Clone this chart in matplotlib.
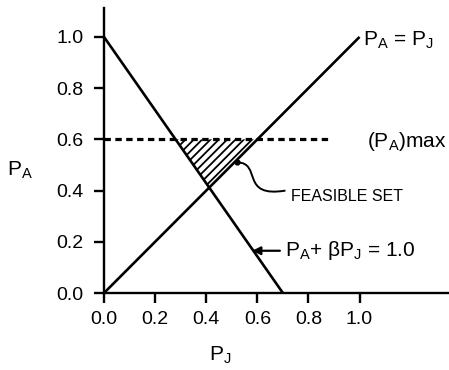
import numpy as np
import matplotlib
matplotlib.use("Agg")
from matplotlib import pyplot as plt
from matplotlib.path import Path
from matplotlib.patches import PathPatch, Polygon

plt.rcParams['font.family'] = ['Liberation Sans', 'DejaVu Sans']
plt.rcParams['mathtext.fontset'] = 'custom'
plt.rcParams['mathtext.rm'] = 'Liberation Sans'
plt.rcParams['mathtext.it'] = 'Liberation Sans'
plt.rcParams['hatch.linewidth'] = 1.3

# data
ticks = [0.0, 0.2, 0.4, 0.6, 0.8, 1.0]
tick_labels = ['0.0', '0.2', '0.4', '0.6', '0.8', '1.0']
budget_x = [0.0, 0.7]       # P_A + beta*P_J = 1.0
budget_y = [1.0, 0.0]
equal_x = [0.0, 1.0]        # P_A = P_J
equal_y = [0.0, 1.0]
pa_max = 0.6
pa_max_x = [0.0, 0.88]
feasible = [(0.28, 0.6), (0.6, 0.6), (0.41, 0.41)]

fig = plt.figure(figsize=(4.49, 3.70), dpi=100)
ax = fig.add_axes([104/449, 77/370, 345/449, 285/370])
ax.set_xlim(0, 1.35)
ax.set_ylim(0, 1.113)

for s in ['top', 'right']:
    ax.spines[s].set_visible(False)
for s in ['left', 'bottom']:
    ax.spines[s].set_linewidth(1.7)

ax.set_xticks(ticks)
ax.set_xticklabels(tick_labels)
ax.set_yticks(ticks)
ax.set_yticklabels(tick_labels)
ax.tick_params(direction='out', length=7, width=1.7, labelsize=14)
ax.tick_params(axis='x', pad=6)
ax.tick_params(axis='y', pad=8)

ax.plot(budget_x, budget_y, color='black', lw=1.9, solid_capstyle='butt')
ax.plot(equal_x, equal_y, color='black', lw=1.9, solid_capstyle='butt')
ax.plot(pa_max_x, [pa_max, pa_max], color='black', lw=2.3,
        linestyle=(0, (2.0, 1.4)))

ax.add_patch(Polygon(feasible, closed=True, fill=False, hatch='////',
                     edgecolor='black', lw=0))

# curly pointer to feasible set
verts = [(0.52, 0.51), (0.62, 0.51), (0.53, 0.37), (0.71, 0.40)]
codes = [Path.MOVETO, Path.CURVE4, Path.CURVE4, Path.CURVE4]
ax.add_patch(PathPatch(Path(verts, codes), fill=False, lw=1.4, color='black'))
ax.plot([0.52], [0.51], 'o', color='black', ms=3.5)

ax.text(0.73, 0.375, 'FEASIBLE SET', fontsize=11.5, va='center', ha='left')
ax.text(1.015, 0.985, r'$\mathregular{P_A}$ = $\mathregular{P_J}$',
        fontsize=15, va='center', ha='left')
ax.text(1.03, 0.59, r'$\mathregular{(P_A)}$max', fontsize=15,
        va='center', ha='left')

ax.annotate(r'$\mathregular{P_A}$+ $\mathregular{\beta P_J}$ = 1.0',
            xy=(0.58, 0.165), xytext=(0.71, 0.165),
            fontsize=15, va='center', ha='left',
            arrowprops=dict(arrowstyle='-|>', color='black', lw=1.6,
                            mutation_scale=12, shrinkA=2, shrinkB=0))

fig.text(20/449, 1 - 170/370, r'$\mathregular{P_A}$', fontsize=15,
         ha='center', va='center')
fig.text(220/449, 1 - 355/370, r'$\mathregular{P_J}$', fontsize=15,
         ha='center', va='center')

fig.savefig('out.png', dpi=100)
